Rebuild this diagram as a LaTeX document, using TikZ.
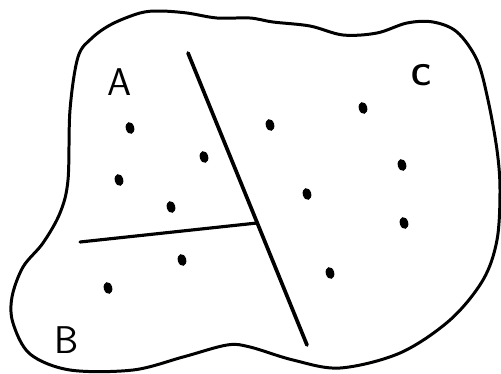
\documentclass[tikz,border=0pt]{standalone}
\begin{document}
\begin{tikzpicture}[x=0.02cm,y=-0.02cm]
\useasboundingbox (0,0) rectangle (501,373);
% outline of the region
\draw[line width=1.7pt,line join=round] plot[smooth cycle,tension=0.55] coordinates {
  (78,57) (92,38) (112,24) (140,13) (160,11) (187,13) (217,18) (250,18)
  (273,22) (310,26) (343,35) (377,33) (407,23) (433,22) (457,32) (477,60)
  (488,100) (497,150) (500,190) (497,240) (483,280) (450,320) (400,353)
  (340,368) (293,360) (250,347) (227,345) (183,357) (133,370) (70,370)
  (30,354) (13,323) (12,297) (23,267) (43,243) (60,213) (68,180) (70,110)};
% dividing lines
\coordinate (top) at (188,53);
\coordinate (bot) at (307,345);
\coordinate (left) at (80,242);
\coordinate (meet) at (257,223);
\draw[line width=2.1pt,line cap=round] (top) -- (bot);
\draw[line width=1.8pt,line cap=round] (left) -- (meet);
% points
\foreach \x/\y in {130/128,204/157,119/180,171/207,182/260,108/288,
                   270/125,363/108,402/165,307/194,404/223,330/273}
  \fill[rotate around={15:(\x,\y)}] (\x,\y) ellipse (2.4pt and 3.4pt);
% labels
\node (labA) at (120,82) {\sffamily\fontsize{22}{22}\selectfont A};
\node (labB) at (67,340) {\sffamily\fontsize{22}{22}\selectfont B};
\node (labC) at (421,75) {\sffamily\bfseries\fontsize{17}{17}\selectfont C};
\end{tikzpicture}
\end{document}
